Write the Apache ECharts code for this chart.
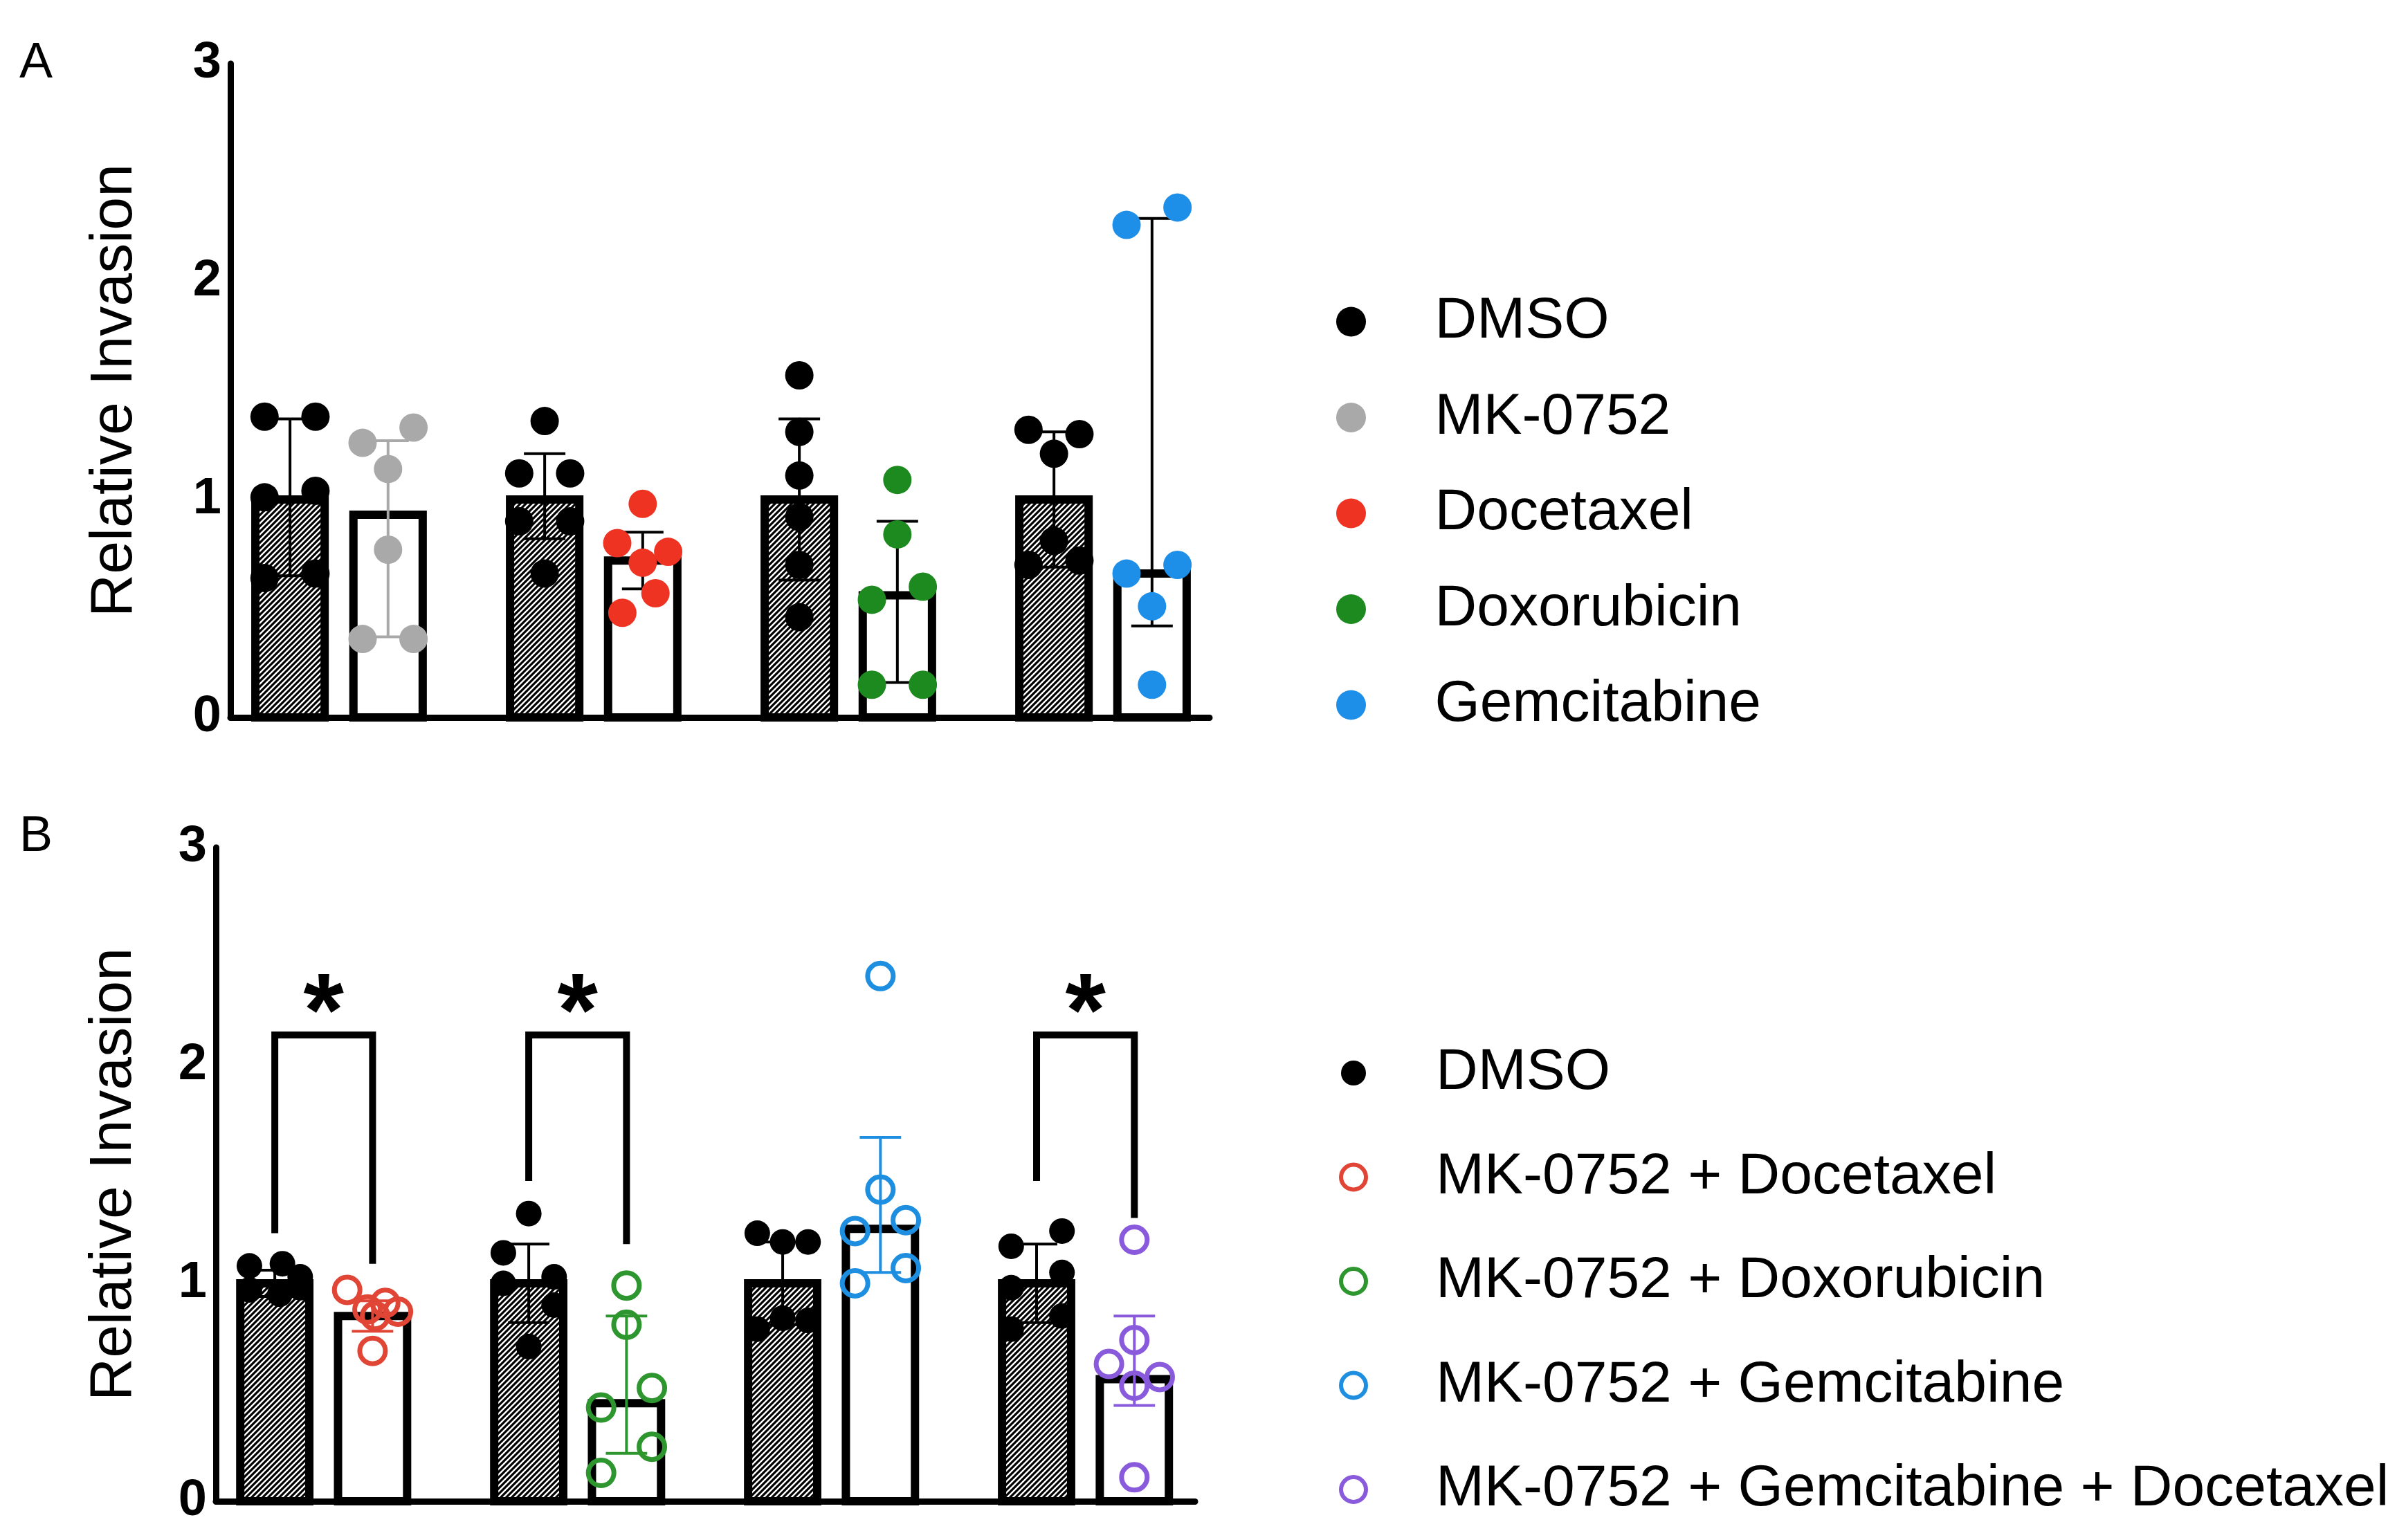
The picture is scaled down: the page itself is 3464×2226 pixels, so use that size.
<!DOCTYPE html>
<html><head><meta charset="utf-8">
<script src="https://cdn.jsdelivr.net/npm/echarts/dist/echarts.min.js"></script>
<style>html,body{margin:0;padding:0;background:#fff}#c{width:3464px;height:2226px}</style>
</head><body><div id="c"></div>
<script>
// ================= DATA =================
const yTicks = [0, 1, 2, 3];
// Panel A
const legendA = ['DMSO', 'MK-0752', 'Docetaxel', 'Doxorubicin', 'Gemcitabine'];
const treatA = ['MK-0752', 'Docetaxel', 'Doxorubicin', 'Gemcitabine'];
const dmsoBarA = [1.00, 1.00, 1.00, 1.00];
const dmsoErrLowA = [0.65, 0.82, 0.63, 0.69];
const dmsoErrHighA = [1.37, 1.21, 1.37, 1.31];
const treatBarA = [0.93, 0.72, 0.56, 0.66];
const treatErrLowA = [0.37, 0.59, 0.16, 0.42];
const treatErrHighA = [1.27, 0.85, 0.90, 2.29];
const dmsoPtsA = [
  [1.38, 1.38, 1.01, 1.04, 0.64, 0.66],
  [1.36, 1.12, 1.12, 0.90, 0.90, 0.66],
  [1.57, 1.31, 1.11, 0.92, 0.70, 0.46],
  [1.32, 1.30, 1.21, 0.81, 0.72, 0.70]
];
const treatPtsA = [
  [1.33, 1.26, 1.14, 0.77, 0.36, 0.36],
  [0.98, 0.80, 0.76, 0.71, 0.57, 0.48],
  [1.09, 0.84, 0.60, 0.54, 0.15, 0.15],
  [2.34, 2.26, 0.70, 0.66, 0.51, 0.15]
];
// Panel B
const legendB = ['DMSO', 'MK-0752 + Docetaxel', 'MK-0752 + Doxorubicin', 'MK-0752 + Gemcitabine', 'MK-0752 + Gemcitabine + Docetaxel'];
const treatB = ['MK-0752 + Docetaxel', 'MK-0752 + Doxorubicin', 'MK-0752 + Gemcitabine', 'MK-0752 + Gemcitabine + Docetaxel'];
const dmsoBarB = [1.00, 1.00, 1.00, 1.00];
const dmsoErrLowB = [0.94, 0.82, 0.81, 0.82];
const dmsoErrHighB = [1.06, 1.18, 1.19, 1.18];
const treatBarB = [0.85, 0.45, 1.25, 0.56];
const treatErrLowB = [0.78, 0.22, 1.05, 0.44];
const treatErrHighB = [0.92, 0.85, 1.67, 0.85];
const dmsoPtsB = [
  [1.08, 1.09, 1.03, 0.97, 0.95, 0.98],
  [1.32, 1.14, 1.03, 1.00, 0.90, 0.71],
  [1.23, 1.19, 1.19, 0.84, 0.83, 0.79],
  [1.24, 1.17, 1.05, 0.98, 0.85, 0.79]
];
const treatPtsB = [
  [0.97, 0.91, 0.88, 0.87, 0.85, 0.69],
  [0.99, 0.81, 0.52, 0.43, 0.25, 0.13],
  [2.41, 1.43, 1.29, 1.24, 1.07, 1.00],
  [1.20, 0.74, 0.63, 0.57, 0.53, 0.11]
];
// significance (Panel B): group index, bracket leg ends, bracket top, star level
const sigGroupsB = [0, 1, 3];
const sigLeftB = [1.23, 1.47, 1.47];
const sigRightB = [1.09, 1.18, 1.30];
const sigTopB = 2.14;
const sigStarB = 2.33;

// ================= LAYOUT / STYLE =================
// dot column placement inside each bar (-1 left, 0 centre, 1 right)
const dmsoColsA = [[-1,1,-1,1,-1,1],[0,-1,1,-1,1,0],[0,0,0,0,0,0],[-1,1,0,0,1,-1]];
const treatColsA = [[1,-1,0,0,-1,1],[0,-1,1,0,0.5,-0.8],[0,0,1,-1,-1,1],[1,-1,1,-1,0,0]];
const dmsoColsB = [[-1,0.3,1,-1,0.2,1],[0,-1,1,-1,1,0],[-1,0,1,0,1,-1],[1,-1,1,-1,1,-1]];
const treatColsB = [[-1,0.5,-0.2,1,0.1,0],[0,0,1,-1,1,-1],[0,0,1,-1,1,-1],[0,0,-1,1,0,0]];
const colorsA = { 'DMSO': '#000000', 'MK-0752': '#a9a9a9', 'Docetaxel': '#ee3322', 'Doxorubicin': '#1c8a1f', 'Gemcitabine': '#1e8fe8' };
const colorsB = { 'DMSO': '#000000', 'MK-0752 + Docetaxel': '#e04535', 'MK-0752 + Doxorubicin': '#2e962e', 'MK-0752 + Gemcitabine': '#1e8fe0', 'MK-0752 + Gemcitabine + Docetaxel': '#8a5adc' };
const errColorA = ['#a9a9a9', '#000000', '#000000', '#000000'];
const GAP = 0.385, JIT = 0.1, BARW = 0.272, CAPW = 0.163;
const FONT = 'Liberation Sans';
const STAR_SIZE = 150;

// hatch pattern
const pc = document.createElement('canvas');
pc.width = 8; pc.height = 8;
const pctx = pc.getContext('2d');
pctx.fillStyle = '#fff'; pctx.fillRect(0, 0, 8, 8);
pctx.strokeStyle = '#000'; pctx.lineWidth = 3.2;
pctx.beginPath();
pctx.moveTo(-2, 10); pctx.lineTo(10, -2);
pctx.moveTo(-6, 6); pctx.lineTo(6, -6);
pctx.moveTo(2, 14); pctx.lineTo(14, 2);
pctx.stroke();
const hatch = { image: pc, repeat: 'repeat' };

function barSeries(ai, dBar, tBar) {
  const items = [];
  dBar.forEach((v, g) => { items.push([g, v, 1]); items.push([g + GAP, tBar[g], 0]); });
  return {
    type: 'custom', xAxisIndex: ai, yAxisIndex: ai, z: 2, silent: true,
    data: items, encode: { x: 0, y: 1 },
    renderItem: (params, api) => {
      const x = api.value(0), v = api.value(1), h = api.value(2);
      const p0 = api.coord([x - BARW / 2, v]);
      const p1 = api.coord([x + BARW / 2, 0]);
      return { type: 'rect', shape: { x: p0[0], y: p0[1], width: p1[0] - p0[0], height: p1[1] - p0[1] },
        style: { fill: h ? hatch : '#ffffff', stroke: '#000', lineWidth: 12 } };
    }
  };
}
function errSeries(ai, lowD, highD, lowT, highT, colD, colT) {
  const items = [];
  lowD.forEach((l, g) => { items.push([g, l, highD[g], colD[g]]); items.push([g + GAP, lowT[g], highT[g], colT[g]]); });
  return {
    type: 'custom', xAxisIndex: ai, yAxisIndex: ai, z: 3, silent: true,
    data: items.map(d => [d[0], d[1], d[2]]), encode: { x: 0, y: [1, 2] },
    renderItem: (params, api) => {
      const it = items[params.dataIndex];
      const top = api.coord([it[0], it[2]]), bot = api.coord([it[0], it[1]]);
      const hw = api.size([CAPW, 0])[0] / 2;
      const st = { stroke: it[3], lineWidth: 4 };
      return { type: 'group', children: [
        { type: 'line', shape: { x1: top[0], y1: top[1], x2: bot[0], y2: bot[1] }, style: st },
        { type: 'line', shape: { x1: top[0] - hw, y1: top[1], x2: top[0] + hw, y2: top[1] }, style: st },
        { type: 'line', shape: { x1: bot[0] - hw, y1: bot[1], x2: bot[0] + hw, y2: bot[1] }, style: st }
      ] };
    }
  };
}
function pts(vals, cols, off) {
  const out = [];
  vals.forEach((arr, g) => arr.forEach((v, i) => out.push([g + off + cols[g][i] * JIT, v])));
  return out;
}
function ptsOne(arr, cols, g, off) { return arr.map((v, i) => [g + off + cols[i] * JIT, v]); }

const series = [];
// Panel A
series.push(barSeries(0, dmsoBarA, treatBarA));
series.push(errSeries(0, dmsoErrLowA, dmsoErrHighA, treatErrLowA, treatErrHighA, ['#000','#000','#000','#000'], errColorA));
series.push({ type: 'scatter', name: 'DMSO', xAxisIndex: 0, yAxisIndex: 0, z: 4, symbol: 'circle', symbolSize: 41,
  itemStyle: { color: colorsA['DMSO'], opacity: 1 }, data: pts(dmsoPtsA, dmsoColsA, 0) });
treatA.forEach((nm, g) => series.push({ type: 'scatter', name: nm, xAxisIndex: 0, yAxisIndex: 0, z: 4, symbol: 'circle', symbolSize: 41,
  itemStyle: { color: colorsA[nm], opacity: 1 }, data: ptsOne(treatPtsA[g], treatColsA[g], g, GAP) }));
// Panel B
series.push(barSeries(1, dmsoBarB, treatBarB));
series.push(errSeries(1, dmsoErrLowB, dmsoErrHighB, treatErrLowB, treatErrHighB, ['#000','#000','#000','#000'], treatB.map(n => colorsB[n])));
series.push({ type: 'scatter', name: 'DMSO', xAxisIndex: 1, yAxisIndex: 1, z: 4, symbol: 'circle', symbolSize: 37,
  itemStyle: { color: '#000', opacity: 1 }, data: pts(dmsoPtsB, dmsoColsB, 0) });
treatB.forEach((nm, g) => series.push({ type: 'scatter', name: nm, xAxisIndex: 1, yAxisIndex: 1, z: 4, symbol: 'circle', symbolSize: 37,
  itemStyle: { color: 'rgba(255,255,255,0)', borderColor: colorsB[nm], borderWidth: 7, opacity: 1 },
  data: ptsOne(treatPtsB[g], treatColsB[g], g, GAP) }));
// significance brackets + stars
series.push({
  type: 'custom', xAxisIndex: 1, yAxisIndex: 1, z: 5, silent: true,
  data: sigGroupsB.map((g, i) => [g, sigLeftB[i], sigRightB[i]]), encode: { x: 0, y: [1, 2] },
  renderItem: (params, api) => {
    const g = api.value(0);
    const a = api.coord([g, api.value(1)]), b = api.coord([g, sigTopB]);
    const c = api.coord([g + GAP, sigTopB]), d = api.coord([g + GAP, api.value(2)]);
    const s = api.coord([g + GAP / 2, sigStarB]);
    return { type: 'group', children: [
      { type: 'polyline', shape: { points: [a, b, c, d] }, style: { stroke: '#000', lineWidth: 10, fill: null, lineJoin: 'miter' } },
      { type: 'text', x: s[0], y: s[1] + STAR_SIZE * 0.23, style: { text: '*', fontSize: STAR_SIZE, fontWeight: 'bold', fontFamily: FONT, fill: '#000', align: 'center', verticalAlign: 'middle' } }
    ] };
  }
});

function yAx(gi, gap) {
  return { type: 'value', gridIndex: gi, min: yTicks[0], max: yTicks[yTicks.length - 1], interval: 1,
    axisLine: { show: true, onZero: false, lineStyle: { color: '#000', width: 9 } },
    axisTick: { show: false }, splitLine: { show: false },
    axisLabel: { fontSize: 74, fontWeight: 'bold', color: '#000', margin: 13, fontFamily: FONT },
    name: 'Relative Invasion', nameLocation: 'middle', nameRotate: 90, nameGap: gap,
    nameTextStyle: { fontSize: 86, color: '#000', fontFamily: FONT } };
}
function xAx(gi, mn, mx) {
  return { type: 'value', gridIndex: gi, min: mn, max: mx,
    axisLine: { show: true, onZero: false, lineStyle: { color: '#000', width: 9 } },
    axisTick: { show: false }, axisLabel: { show: false }, splitLine: { show: false } };
}

const legendItemsA = legendA.map(n => ({ name: n, icon: 'circle', itemStyle: { color: colorsA[n], borderWidth: 0 } }));
const legendItemsB = legendB.map((n, i) => i === 0
  ? { name: n, icon: 'circle', itemStyle: { color: '#000', borderWidth: 0 } }
  : { name: n, icon: 'circle', itemStyle: { color: '#ffffff', borderColor: colorsB[n], borderWidth: 6 } });

const option = {
  animation: false,
  backgroundColor: '#ffffff',
  grid: [
    { left: 333, top: 92, width: 1415, height: 945, outerBoundsMode: 'none', containLabel: false },
    { left: 312, top: 1225, width: 1415, height: 945, outerBoundsMode: 'none', containLabel: false }
  ],
  xAxis: [xAx(0, -0.234, 3.611), xAx(1, -0.232, 3.624)],
  yAxis: [yAx(0, 124), yAx(1, 104)],
  legend: [
    { data: legendItemsA, orient: 'vertical', left: 1926, top: 415, itemWidth: 232, itemHeight: 43, itemGap: 48.5,
      selectedMode: false, textStyle: { fontSize: 84, lineHeight: 90, color: '#000', fontFamily: FONT } },
    { data: legendItemsB, orient: 'vertical', left: 1930, top: 1501, itemWidth: 228, itemHeight: 36, itemGap: 60.5,
      selectedMode: false, textStyle: { fontSize: 84, lineHeight: 90, color: '#000', fontFamily: FONT } }
  ],
  graphic: [
    { type: 'text', x: 52, y: 92, style: { text: 'A', fontSize: 72, fontFamily: FONT, fill: '#000', align: 'center', verticalAlign: 'middle' } },
    { type: 'text', x: 52, y: 1210, style: { text: 'B', fontSize: 72, fontFamily: FONT, fill: '#000', align: 'center', verticalAlign: 'middle' } }
  ],
  series: series
};
const chart = echarts.init(document.getElementById('c'), null, { renderer: 'canvas', width: 3464, height: 2226 });
chart.setOption(option);
</script></body></html>
